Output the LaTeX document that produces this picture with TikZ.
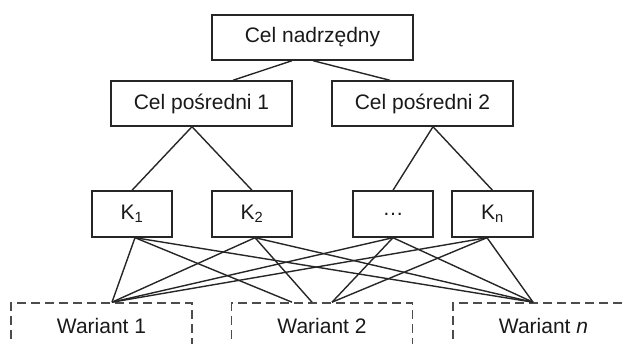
\documentclass[tikz,border=0pt]{standalone}
\usepackage{fontspec}
\setmainfont{Liberation Sans}
\usetikzlibrary{calc}
\begin{document}
\begin{tikzpicture}[x=1pt,y=-1pt,
  box/.style={draw=black!85, line width=1.4pt, minimum height=45pt, inner sep=0pt,
    font=\fontsize{21}{25}\selectfont, text=black!90},
  varbox/.style={box, draw=black!70, dash pattern=on 9pt off 5pt, line width=1.6pt},
  link/.style={line width=1.4pt, draw=black!85}]
\useasboundingbox (0,0) rectangle (626,344);
\clip (0,0) rectangle (626,344);
% nodes
\node[box, minimum width=201pt] (top) at (312.5,37.5) {Cel nadrzędny};
\node[box, minimum width=181pt] (cp1) at (201.5,103.5) {Cel pośredni 1};
\node[box, minimum width=181pt] (cp2) at (422.5,103.5) {Cel pośredni 2};
\node[box, minimum width=80pt, minimum height=46pt] (k1) at (132,214) {K\textsubscript{1}};
\node[box, minimum width=80pt, minimum height=46pt] (k2) at (252,214) {K\textsubscript{2}};
\node[box, minimum width=80pt, minimum height=46pt] (k3) at (393,214) {…};
\node[box, minimum width=81pt, minimum height=46pt] (kn) at (492.5,214) {K\textsubscript{n}};
\node[varbox, minimum width=181pt] (w1) at (101.5,325.5) {Wariant 1};
\node[varbox, minimum width=181pt] (w2) at (322,325.5) {Wariant 2};
\node[varbox, minimum width=181pt] (wn) at (543.5,325.5) {Wariant \textit{n}};
% attachment points
\coordinate (topL) at ($(top.south)+(-20.5,0)$);
\coordinate (topR) at ($(top.south)+(0.5,0)$);
\coordinate (cp1in) at ($(cp1.north)+(31.5,0)$);
\coordinate (cp2in) at ($(cp2.north)+(-32.5,0)$);
\coordinate (cp1out) at ($(cp1.south)+(-9.5,0)$);
\coordinate (cp2out) at ($(cp2.south)+(10.5,0)$);
\coordinate (k1out) at ($(k1.south)+(3,0)$);
\coordinate (k2out) at ($(k2.south)+(3,0)$);
\coordinate (k3out) at (k3.south);
\coordinate (knout) at ($(kn.south)+(-5.5,0)$);
\coordinate (w1in) at ($(w1.north)+(10.5,0)$);
\coordinate (w2a) at ($(w2.north)+(-30,0)$);
\coordinate (w2b) at ($(w2.north)+(-10,0)$);
\coordinate (w2c) at ($(w2.north)+(10,0)$);
\coordinate (wnin) at ($(wn.north)+(-10.5,0)$);
% connectors
\draw[link] (topL) -- (cp1in);
\draw[link] (topR) -- (cp2in);
\draw[link] (cp1out) -- (k1.north);
\draw[link] (cp1out) -- (k2.north);
\draw[link] (cp2out) -- (k3.north);
\draw[link] (cp2out) -- (kn.north);
\draw[link] (k1out) -- (w1in);
\draw[link] (k1out) -- (w2a);
\draw[link] (k1out) -- (wnin);
\draw[link] (k2out) -- (w1in);
\draw[link] (k2out) -- (w2b);
\draw[link] (k2out) -- (wnin);
\draw[link] (k3out) -- (w1in);
\draw[link] (k3out) -- (w2c);
\draw[link] (k3out) -- (wnin);
\draw[link] (knout) -- (w1in);
\draw[link] (knout) -- (w2c);
\draw[link] (knout) -- (wnin);
\end{tikzpicture}
\end{document}
